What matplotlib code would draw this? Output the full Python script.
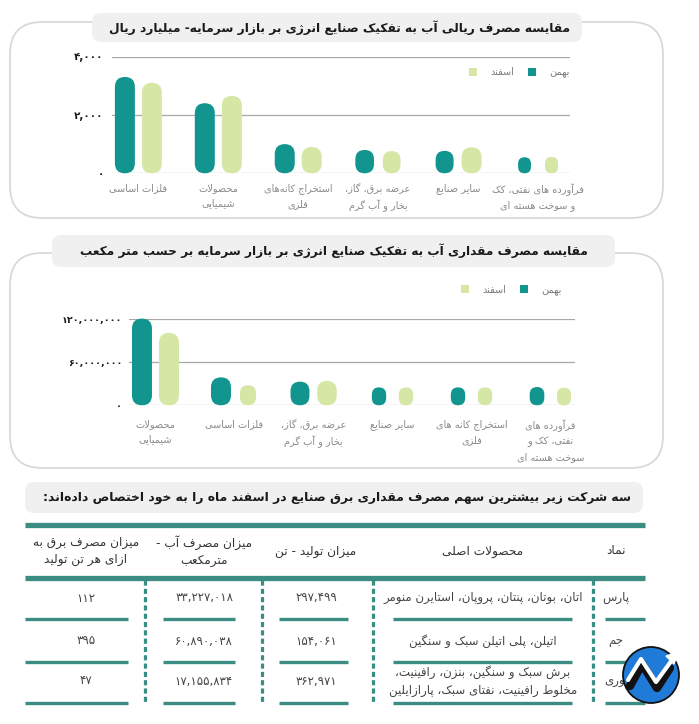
import re
import matplotlib
matplotlib.use('Agg')
import matplotlib.pyplot as plt
from matplotlib.patches import FancyBboxPatch, Patch, Circle, Polygon

plt.rcParams['font.family'] = 'DejaVu Sans'

# ---- data ----
month_labels = ['بهمن', 'اسفند']

rial_categories = ['فلزات اساسی', 'محصولات\nشیمیایی', 'استخراج کانه\u200cهای\nفلزی',
                   'عرضه برق، گاز،\nبخار و آب گرم', 'سایر صنایع',
                   'فرآورده های نفتی، کک\nو سوخت هسته ای']
rial_bahman = [3300, 2400, 1000, 800, 770, 550]
rial_esfand = [3100, 2650, 900, 760, 890, 560]
rial_ticks = [0, 2000, 4000]

volume_categories = ['محصولات\nشیمیایی', 'فلزات اساسی', 'عرضه برق، گاز،\nبخار و آب گرم',
                     'سایر صنایع', 'استخراج کانه های\nفلزی',
                     'فرآورده های\nنفتی، کک و\nسوخت هسته ای']
volume_bahman = [121e6, 39e6, 33e6, 25e6, 25e6, 25.5e6]
volume_esfand = [101e6, 28e6, 34e6, 25e6, 25e6, 24.5e6]
volume_ticks = [0, 60e6, 120e6]

table_headers = ['نماد', 'محصولات اصلی', 'میزان تولید - تن', 'میزان مصرف آب -\nمترمکعب',
                 'میزان مصرف برق به\nازای هر تن تولید']
companies = ['پارس', 'جم', 'نوری']
main_products = ['اتان، بوتان، پنتان، پروپان، استایرن منومر',
                 'اتیلن، پلی اتیلن سبک و سنگین',
                 'برش سبک و سنگین، بنزن، رافینیت،\nمخلوط رافینیت، نفتای سبک، پارازایلین']
production_ton = [297499, 154061, 362971]
water_m3 = [33227018, 60890038, 17155834]
power_per_ton = [112, 395, 47]

title_rial = 'مقایسه مصرف ریالی آب به تفکیک صنایع انرژی بر بازار سرمایه- میلیارد ریال'
title_volume = 'مقایسه مصرف مقداری آب به تفکیک صنایع انرژی بر بازار سرمایه بر حسب متر مکعب'
title_table = 'سه شرکت زیر بیشترین سهم مصرف مقداری برق صنایع در اسفند ماه را به خود اختصاص داده\u200cاند:'

teal = '#12958f'
light = '#d5e6a5'
line_teal = '#3b8c82'

# ---- persian shaping (matplotlib has no arabic shaping / bidi) ----
RIGHT = {'آ': 0xFE81, 'أ': 0xFE83, 'ؤ': 0xFE85, 'إ': 0xFE87, 'ا': 0xFE8D, 'ة': 0xFE93,
         'د': 0xFEA9, 'ذ': 0xFEAB, 'ر': 0xFEAD, 'ز': 0xFEAF, 'و': 0xFEED, 'ى': 0xFEEF,
         'ژ': 0xFB8A}
DUAL = {'ئ': 0xFE89, 'ب': 0xFE8F, 'ت': 0xFE95, 'ث': 0xFE99, 'ج': 0xFE9D, 'ح': 0xFEA1,
        'خ': 0xFEA5, 'س': 0xFEB1, 'ش': 0xFEB5, 'ص': 0xFEB9, 'ض': 0xFEBD, 'ط': 0xFEC1,
        'ظ': 0xFEC5, 'ع': 0xFEC9, 'غ': 0xFECD, 'ف': 0xFED1, 'ق': 0xFED5, 'ك': 0xFED9,
        'ل': 0xFEDD, 'م': 0xFEE1, 'ن': 0xFEE5, 'ه': 0xFEE9, 'ي': 0xFEF1, 'پ': 0xFB56,
        'چ': 0xFB7A, 'ک': 0xFB8E, 'گ': 0xFB92, 'ی': 0xFBFC}
LAM_ALEF = {'ا': 0xFEFB, 'آ': 0xFEF5, 'أ': 0xFEF7, 'إ': 0xFEF9}
FA_DIGITS = str.maketrans('0123456789', '۰۱۲۳۴۵۶۷۸۹')


def shape_line(s):
    out = []
    i = 0
    while i < len(s):
        ch = s[i]
        prev = s[i - 1] if i > 0 else ''
        nxt = s[i + 1] if i + 1 < len(s) else ''
        if ch == 'ل' and nxt in LAM_ALEF:
            out.append(chr(LAM_ALEF[nxt] + (1 if prev in DUAL else 0)))
            i += 2
            continue
        if ch in DUAL or ch in RIGHT:
            base = DUAL.get(ch, RIGHT.get(ch))
            jp = prev in DUAL
            jn = ch in DUAL and (nxt in DUAL or nxt in RIGHT)
            if jp and jn:
                base += 3
            elif jn:
                base += 2
            elif jp:
                base += 1
            out.append(chr(base))
        elif ch != '\u200c':
            out.append(ch)
        i += 1
    # visual order: reverse, but keep number runs left to right
    tokens = re.findall(r'[0-9۰-۹][0-9۰-۹,.]*|.', ''.join(out))
    return ''.join(tokens[::-1])


def fa(s):
    return '\n'.join(shape_line(line) for line in s.split('\n'))


def fa_num(n):
    return f'{int(n):,}'.translate(FA_DIGITS)


# ---- figure ----
W, H = 699, 724
fig = plt.figure(figsize=(W / 100, H / 100), dpi=100)
bg = fig.add_axes([0, 0, 1, 1])
bg.set_xlim(0, W)
bg.set_ylim(H, 0)
bg.axis('off')


def rbox(x0, y0, x1, y1, r, fc, ec='none', lw=0, z=1):
    bg.add_patch(FancyBboxPatch((x0, y0), x1 - x0, y1 - y0,
                                boxstyle=f'round,pad=0,rounding_size={r}',
                                fc=fc, ec=ec, lw=lw, zorder=z))


# panels and title boxes
rbox(10, 22, 663, 218, 32, 'white', '#d6d6d6', 1.2)
rbox(92, 13, 582, 42, 9, '#f0f0f0', z=2)
bg.text(340, 28, fa(title_rial), ha='center', va='center', fontsize=8.8,
        fontweight='bold', color='#1a1a1a', zorder=3)

rbox(10, 253, 663, 468, 32, 'white', '#d6d6d6', 1.2)
rbox(52, 235, 615, 267, 9, '#f0f0f0', z=2)
bg.text(334, 251, fa(title_volume), ha='center', va='center', fontsize=8.7,
        fontweight='bold', color='#1a1a1a', zorder=3)

rbox(25, 482, 643, 513, 9, '#f0f0f0', z=2)
bg.text(337, 497, fa(title_table), ha='center', va='center', fontsize=8.9,
        fontweight='bold', color='#1a1a1a', zorder=3)


def chart(px_left, px_right, px_top, px_bottom, xlim, ylim, cats, s1, s2, ticks,
          leg_anchor, label_pad, tick_size, tick_pad):
    ax = fig.add_axes([px_left / W, 1 - px_bottom / H, (px_right - px_left) / W,
                       (px_bottom - px_top) / H], zorder=5)
    ax.set_facecolor('none')
    ax.set_xlim(*xlim)
    ax.set_ylim(*ylim)
    ux = (xlim[1] - xlim[0]) / (px_right - px_left)   # data units per pixel
    uy = (ylim[1] - ylim[0]) / (px_bottom - px_top)
    off = 13.5 * ux
    for i in range(len(cats)):
        for val, dx, col in ((s1[i], -off, teal), (s2[i], off, light)):
            h = val / uy
            w = min(20, 0.8 * h)
            r = min(w, h) / 2
            ax.add_patch(FancyBboxPatch((i + dx - w * ux / 2, 0), w * ux, val,
                                        boxstyle=f'round,pad=0,rounding_size={r * ux}',
                                        mutation_aspect=uy / ux, fc=col, ec='none',
                                        clip_on=False, zorder=3))
    ax.set_yticks(ticks)
    ax.set_yticklabels([fa_num(t) for t in ticks], fontsize=tick_size, fontweight='bold',
                       color='#1a1a1a')
    ax.set_xticks(range(len(cats)))
    ax.set_xticklabels([fa(c) for c in cats], fontsize=7, color='#8a8a8a',
                       linespacing=1.6)
    ax.tick_params(axis='y', length=0, pad=tick_pad)
    ax.tick_params(axis='x', length=0, pad=label_pad)
    ax.grid(axis='y', color='#a8a8a8', lw=0.9)
    ax.set_axisbelow(True)
    for sp in ax.spines.values():
        sp.set_visible(False)
    handles = [Patch(fc=light, ec='none'), Patch(fc=teal, ec='none')]
    ax.legend(handles, [fa(month_labels[1]), fa(month_labels[0])], ncol=2,
              loc='center right', bbox_to_anchor=leg_anchor, frameon=False,
              fontsize=7, labelcolor='#7a7a7a', handlelength=0.8, handleheight=0.8,
              handletextpad=1.4, columnspacing=1.4, borderpad=0, borderaxespad=0)
    return ax


chart(112, 570, 56.5, 173.3, (-0.33, 5.4), (0, 4000), rial_categories,
      rial_bahman, rial_esfand, rial_ticks, (1.0, 0.86), 7, 7.5, 6)
chart(129, 575, 319.3, 405.3, (-0.335, 5.31), (0, 120e6), volume_categories,
      volume_bahman, volume_esfand, volume_ticks, (0.97, 1.34), 10, 6.8, 5)

# ---- table ----
tx0, tx1 = 25, 645
bg.plot([tx0, tx1], [524.5, 524.5], color=line_teal, lw=3.8, solid_capstyle='butt')
bg.plot([tx0, tx1], [577.5, 577.5], color=line_teal, lw=3.8, solid_capstyle='butt')
col_x = [616, 483, 316, 204, 86]
col_seg = [(605, 645), (393, 572), (279, 348), (163, 235), (25, 128)]
row_y = [598, 641, 681]
sep_y = [618.5, 662, 703]
for x, head in zip(col_x, table_headers):
    bg.text(x, 551, fa(head), ha='center', va='center', fontsize=8.7, color='#333333',
            linespacing=1.45)
for xd in [593, 373, 262, 145]:
    bg.plot([xd, xd], [580, 704], color=line_teal, lw=2.3,
            linestyle=(0, (1.6, 1.0)), solid_capstyle='butt')
for y in sep_y:
    for a, b in col_seg:
        bg.plot([a, b], [y, y], color=line_teal, lw=2.4, solid_capstyle='butt')
for k in range(len(companies)):
    cells = [fa(companies[k]), fa(main_products[k]), fa_num(production_ton[k]),
             fa_num(water_m3[k]), fa_num(power_per_ton[k])]
    for x, txt in zip(col_x, cells):
        bg.text(x, row_y[k], txt, ha='center', va='center', fontsize=8.5,
                color='#444444', linespacing=1.45)

# logo
bg.add_patch(Circle((651, 675), 28, fc='#1f7ad8', ec='#111111', lw=1.3, zorder=6))
bg.plot([630, 642, 657, 670], [686, 664, 688, 668], color='#111111', lw=6,
        solid_capstyle='round', zorder=7)
bg.plot([628, 641, 656, 672], [680, 659, 682, 660], color='white', lw=3,
        solid_capstyle='round', zorder=8)
bg.add_patch(Polygon([[666, 656], [678, 652], [674, 664]], closed=True, fc='white',
                     ec='white', zorder=8))

fig.savefig('out.png', dpi=100, facecolor='white')
